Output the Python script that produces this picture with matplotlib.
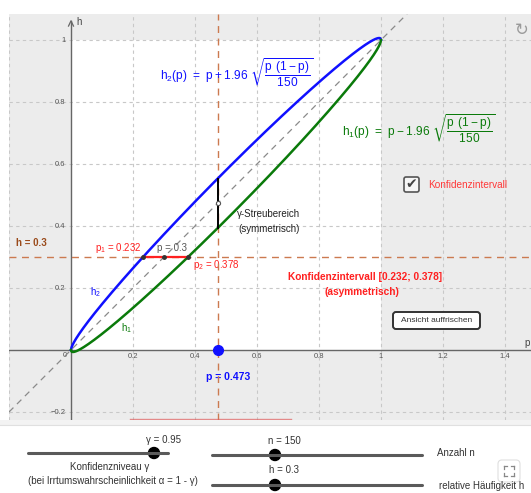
import numpy as np
import matplotlib
matplotlib.use("Agg")
import matplotlib.pyplot as plt
from matplotlib.patches import Rectangle, FancyBboxPatch, Circle

plt.rcParams['font.family'] = ['Liberation Sans', 'DejaVu Sans']
plt.rcParams['mathtext.fontset'] = 'dejavusans'
plt.rcParams['mathtext.default'] = 'regular'

# ---- data ----
n = 150
z = 1.96
gamma = 0.95
h_obs = 0.3
p_sel = 0.473
p1 = 0.232
p2 = 0.378
x_ticks = [0.2, 0.4, 0.6, 0.8, 1.0, 1.2, 1.4]
x_tick_labels = ["0.2", "0.4", "0.6", "0.8", "1", "1.2", "1.4"]
y_ticks = [-0.2, 0.2, 0.4, 0.6, 0.8, 1.0]
y_tick_labels = ["\u22120.2", "0.2", "0.4", "0.6", "0.8", "1"]
slider_gamma = (0.5, 1.0)
slider_n = (0, 500)
slider_h = (0.0, 1.0)

def h1(p):
    return p - z * np.sqrt(p * (1 - p) / n)

def h2(p):
    return p + z * np.sqrt(p * (1 - p) / n)

BLUE = '#1010ff'
GREEN = '#0a7a0a'
RED = '#ff2020'
ORANGE = '#cc7a50'
GRID = '#c8c8c8'
AX = '#666666'

fig = plt.figure(figsize=(5.31, 4.93), dpi=100)
fig.patch.set_facecolor('white')

ax = fig.add_axes([9/531, 73/493, 522/531, 406/493])
ax.set_xlim(-0.2, 1.4839)
ax.set_ylim(-0.2258, 1.0839)
ax.set_facecolor('#ececec')
for s in ax.spines.values():
    s.set_visible(False)
ax.set_xticks([]); ax.set_yticks([])
ax.add_patch(Rectangle((0, 0), 1, 1, facecolor='white', edgecolor='none', zorder=0))

# grid
for v in [-0.2] + x_ticks:
    ax.axvline(v, color=GRID, lw=0.8, dashes=(3, 3), zorder=1)
for v in y_ticks:
    ax.axhline(v, color=GRID, lw=0.8, dashes=(3, 3), zorder=1)

# axes
ax.axhline(0, color=AX, lw=1.0, zorder=2)
ax.plot([0, 0], [-0.2258, 1.06], color=AX, lw=1.0, zorder=2)
ax.plot([-0.008, 0, 0.008], [1.045, 1.062, 1.045], color=AX, lw=0.9, zorder=2)

# tick labels
for v, lab in zip(x_ticks, x_tick_labels):
    ax.text(v, -0.022, lab, fontsize=5.5, color='#555555', ha='center', va='center')
for v, lab in zip(y_ticks, y_tick_labels):
    ax.text(-0.018, v, lab, fontsize=5.5, color='#555555', ha='right', va='center')
ax.text(-0.012, -0.018, "0", fontsize=5.5, color='#555555', ha='right', va='center')
ax.text(0.016, 1.058, "h", fontsize=7, color='#444444', ha='left', va='center')
ax.text(1.471, 0.024, "p", fontsize=7, color='#444444', ha='center', va='center')

# diagonal
ax.axline((0, 0), (1, 1), color='#8a8a8a', lw=0.9, dashes=(5, 4), zorder=3)

# curves
p = np.linspace(0, 1, 600)
ax.plot(p, h2(p), color=BLUE, lw=1.8, zorder=5)
ax.plot(p, h1(p), color=GREEN, lw=1.8, zorder=5)

# orange dashed lines
ax.axvline(p_sel, color=ORANGE, lw=1.0, dashes=(5, 4), zorder=4)
ax.axhline(h_obs, color=ORANGE, lw=1.0, dashes=(5, 4), zorder=4)

# scatter range
ax.plot([p_sel, p_sel], [h1(p_sel), h2(p_sel)], color='black', lw=1.4, zorder=6)
ax.plot([p_sel], [p_sel], 'o', ms=3, mfc='white', mec='#555555', mew=0.8, zorder=7)

# confidence interval
ax.plot([p1, p2], [h_obs, h_obs], color=RED, lw=1.6, zorder=6)
ax.plot([p1, h_obs, p2], [h_obs] * 3, 'o', ms=2.5, color='#333333', zorder=7)

# p point
ax.plot([p_sel], [0], 'o', ms=7, color=BLUE, zorder=8)

# faint red line at bottom edge
ax.plot([0.19, 0.71], [-0.223, -0.223], color='#e06060', lw=1.0, alpha=0.7, zorder=4)

# texts
ax.text(0.287, 0.895, r'$h_2(p)\ =\ p + 1.96\ \sqrt{\dfrac{p\ (1-p)}{150}}$',
        color=BLUE, fontsize=8.6, ha='left', va='center', zorder=9)
ax.text(0.874, 0.714, r'$h_1(p)\ =\ p - 1.96\ \sqrt{\dfrac{p\ (1-p)}{150}}$',
        color=GREEN, fontsize=8.6, ha='left', va='center', zorder=9)
ax.text(0.535, 0.438, "\u03b3-Streubereich", fontsize=7, color='#222222', ha='left', va='center')
ax.text(0.541, 0.39, "(symmetrisch)", fontsize=7, color='#222222', ha='left', va='center')
ax.text(-0.177, 0.345, "h = 0.3", fontsize=7, color='#9a4a1a', fontweight='bold', ha='left', va='center')
ax.text(0.077, 0.329, r"p$_1$ = 0.232", fontsize=7, color=RED, ha='left', va='center')
ax.text(0.277, 0.329, "p = 0.3", fontsize=7, color='#555555', ha='left', va='center')
ax.text(0.394, 0.274, r"p$_2$ = 0.378", fontsize=7, color=RED, ha='left', va='center')
ax.text(0.061, 0.187, r"h$_2$", fontsize=7, color=BLUE, ha='left', va='center')
ax.text(0.161, 0.071, r"h$_1$", fontsize=7, color=GREEN, ha='left', va='center')
ax.text(0.948, 0.235, "Konfidenzintervall [0.232; 0.378]", fontsize=7.3, color=RED,
        fontweight='bold', ha='center', va='center')
ax.text(0.94, 0.187, "(asymmetrisch)", fontsize=7.3, color=RED, fontweight='bold', ha='center', va='center')
ax.text(0.507, -0.087, "p = 0.473", fontsize=7.5, color=BLUE, fontweight='bold', ha='center', va='center')

# ---- overlay UI in pixel coordinates ----
ov = fig.add_axes([0, 0, 1, 1])
ov.set_xlim(0, 531); ov.set_ylim(493, 0)
ov.axis('off'); ov.patch.set_visible(False)

# checkbox
ov.add_patch(FancyBboxPatch((404, 177), 15, 15, boxstyle="round,pad=0,rounding_size=2",
                            facecolor='#f6f6f6', edgecolor='#555555', lw=1.2))
ov.text(411.5, 184.5, "\u2714", fontsize=10, color='#444444', ha='center', va='center',
        family='DejaVu Sans')
ov.text(428, 184.5, "Konfidenzintervall", fontsize=7.2, color='#ff3838', ha='left', va='center')

# button
ov.add_patch(FancyBboxPatch((393, 312), 87, 17, boxstyle="round,pad=0,rounding_size=3",
                            facecolor='white', edgecolor='#333333', lw=1.4))
ov.text(436.5, 320.5, "Ansicht auffrischen", fontsize=6, color='#333333', ha='center', va='center')

# refresh icon
ov.text(522, 30, "\u21bb", fontsize=12, color='#9a9a9a', ha='center', va='center', family='DejaVu Sans')

# bottom panel
ov.add_patch(Rectangle((0, 420), 531, 5, facecolor='#f3f3f3', edgecolor='none'))
ov.add_patch(Rectangle((0, 425), 531, 68, facecolor='white', edgecolor='none'))
ov.plot([0, 531], [425, 425], color='#e0e0e0', lw=0.8)

def slider(x0, x1, y, vmin, vmax, val, label, lx, ly):
    ov.plot([x0, x1], [y, y], color='#5a5a5a', lw=2.2, solid_capstyle='round')
    kx = x0 + (val - vmin) / (vmax - vmin) * (x1 - x0)
    ov.add_patch(Circle((kx, y), 5.5, facecolor='black', edgecolor='black'))
    ov.text(lx, ly, label, fontsize=7, color='#333333', ha='center', va='center')

slider(28, 168, 453, slider_gamma[0], slider_gamma[1], gamma, "\u03b3 = 0.95", 163, 440)
slider(212, 422, 455, slider_n[0], slider_n[1], n, "n = 150", 284, 441)
slider(212, 422, 485, slider_h[0], slider_h[1], h_obs, "h = 0.3", 284, 470)

ov.text(110, 467, "Konfidenzniveau \u03b3", fontsize=7, color='#333333', ha='center', va='center')
ov.text(113, 481, "(bei Irrtumswahrscheinlichkeit \u03b1 = 1 - \u03b3)", fontsize=7, color='#333333',
        ha='center', va='center')
ov.text(437, 453, "Anzahl n", fontsize=7, color='#333333', ha='left', va='center')
ov.text(439, 486, "relative H\u00e4ufigkeit h", fontsize=7, color='#333333', ha='left', va='center')

# fullscreen icon
ov.add_patch(FancyBboxPatch((498, 460), 22, 22, boxstyle="round,pad=0,rounding_size=4",
                            facecolor='white', edgecolor='#dddddd', lw=0.8, alpha=0.95))
for (cx, cy, dx, dy) in [(504, 466, 1, 1), (514, 466, -1, 1), (504, 476, 1, -1), (514, 476, -1, -1)]:
    ov.plot([cx, cx + 3 * dx], [cy, cy], color='#888888', lw=0.9)
    ov.plot([cx, cx], [cy, cy + 3 * dy], color='#888888', lw=0.9)

fig.savefig("out.png", dpi=100, facecolor='white')
